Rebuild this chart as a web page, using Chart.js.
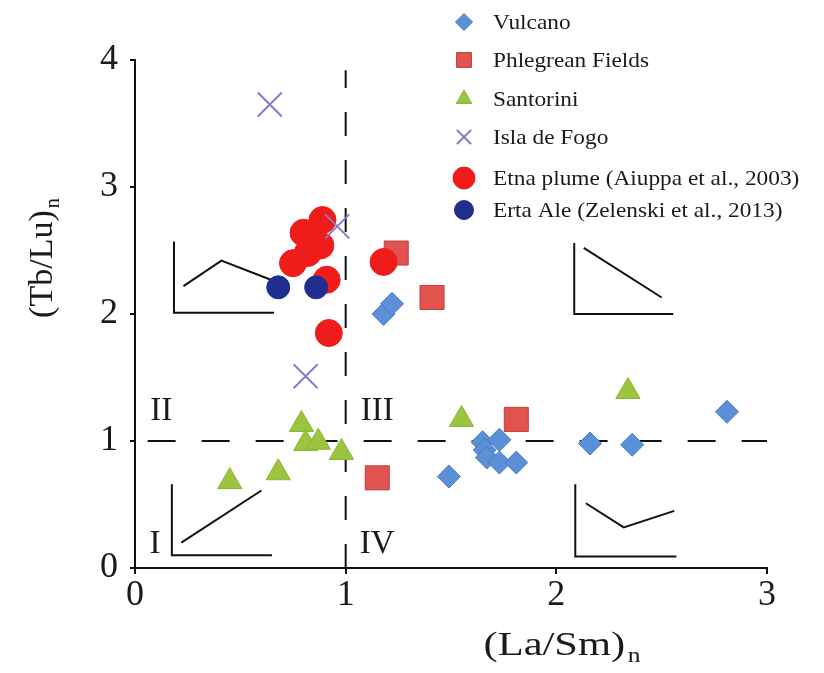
<!DOCTYPE html>
<html>
<head>
<meta charset="utf-8">
<script src="https://cdn.jsdelivr.net/npm/chart.js@4/dist/chart.umd.min.js"></script>
<style>
  html, body { margin: 0; padding: 0; background: #fff; }
  canvas { display: block; }
</style>
</head>
<body>
<canvas id="chart" width="824" height="673"></canvas>
<script>
// (La/Sm)n , (Tb/Lu)n pairs
const vulcano = [
  [1.18, 2.00], [1.22, 2.08], [1.49, 0.72], [1.65, 0.99], [1.73, 1.01],
  [1.66, 0.93], [1.67, 0.87], [1.73, 0.83], [1.81, 0.83], [2.16, 0.98],
  [2.36, 0.97], [2.81, 1.23],
];
const phlegrean = [[1.24, 2.48], [1.41, 2.13], [1.15, 0.71], [1.81, 1.17]];
const santorini = [
  [0.45, 0.68], [0.68, 0.75], [0.79, 1.13], [0.81, 0.98], [0.87, 0.99],
  [0.98, 0.91], [1.55, 1.17], [2.34, 1.39],
];
const fogo = [[0.64, 3.65], [0.96, 2.69], [0.81, 1.51]];
const etna = [
  [0.89, 2.74], [0.80, 2.64], [0.88, 2.54], [0.82, 2.48], [0.75, 2.40],
  [0.91, 2.27], [0.92, 1.85], [1.18, 2.41],
];
const ertaAle = [[0.68, 2.21], [0.86, 2.21]];

// quadrant dividers
const dividerX = [[1, 0], [1, 3.92]];
const dividerY = [[0.06, 1], [3, 1]];

// small REE-pattern sketches in each quadrant
const insetFrames = [
  [[0.185, 2.57], [0.185, 2.01], [0.66, 2.01]],
  [[2.085, 2.56], [2.085, 2.00], [2.555, 2.00]],
  [[0.175, 0.66], [0.175, 0.10], [0.65, 0.10]],
  [[2.09, 0.66], [2.09, 0.09], [2.57, 0.09]],
];
const insetCurves = [
  [[0.23, 2.22], [0.41, 2.42], [0.66, 2.26]],
  [[2.13, 2.52], [2.50, 2.13]],
  [[0.22, 0.20], [0.60, 0.61]],
  [[2.14, 0.51], [2.32, 0.32], [2.56, 0.45]],
];

const quadrantNames = ['II', 'III', 'I', 'IV'];
const quadrantSpots = [[0.125, 1.23], [1.15, 1.23], [0.095, 0.19], [1.15, 0.19]];

const toPts = (arr) => arr.map(([x, y]) => ({ x, y }));
const serif = '"Liberation Serif", "DejaVu Serif", serif';

const markerSeries = [
  { label: 'Vulcano', data: vulcano, pointStyle: 'rectRot', radius: 11.5, bg: '#5b8fd6', border: '#4a7dc4', bw: 1, order: 6, legendR: 8.5 },
  { label: 'Phlegrean Fields', data: phlegrean, pointStyle: 'rect', radius: 17, bg: '#e2534f', border: '#b8423f', bw: 1, order: 5, legendR: 10.5 },
  { label: 'Santorini', data: santorini, pointStyle: 'triangle', radius: 14, bg: '#9bc43f', border: '#8ab534', bw: 1, order: 4, legendR: 9 },
  { label: 'Isla de Fogo', data: fogo, pointStyle: 'crossRot', radius: 17, bg: '#8a7bc6', border: '#8a7bc6', bw: 2, order: 0, legendR: 10 },
  { label: 'Etna plume (Aiuppa et al., 2003)', data: etna, pointStyle: 'circle', radius: 13.5, bg: '#f01b1b', border: '#f01b1b', bw: 1, order: 2, legendR: 11 },
  { label: 'Erta Ale (Zelenski et al., 2013)', data: ertaAle, pointStyle: 'circle', radius: 11.5, bg: '#1f2e8f', border: '#1f2e8f', bw: 1, order: 1, legendR: 9.5 },
];
const legendRowsY = [22, 60, 99, 137, 178, 210];

const datasets = [];
markerSeries.forEach((s) => {
  datasets.push({
    label: s.label,
    data: toPts(s.data),
    pointStyle: s.pointStyle,
    pointRadius: s.radius,
    pointHoverRadius: s.radius,
    backgroundColor: s.bg,
    borderColor: s.border,
    borderWidth: s.bw,
    order: s.order,
  });
});

const lineStyle = (data, dash) => ({
  data: toPts(data),
  showLine: true,
  fill: false,
  tension: 0,
  borderColor: '#111',
  borderWidth: 2,
  borderDash: dash,
  pointRadius: 0,
  pointHoverRadius: 0,
  order: 10,
});
datasets.push(lineStyle(dividerX, [24, 24]));
datasets.push(lineStyle(dividerY, [28, 26]));
insetFrames.forEach((f) => datasets.push(lineStyle(f, [])));
insetCurves.forEach((c) => datasets.push(lineStyle(c, [])));

// text with a subscript, optionally stretched horizontally
function subText(ctx, main, sub, cx, baseline, size, stretch) {
  ctx.font = `${size}px ${serif}`;
  const w = ctx.measureText(main).width;
  ctx.font = `${size * 0.6}px ${serif}`;
  const sw = ctx.measureText(sub).width;
  const total = w + sw + 2;
  ctx.save();
  ctx.translate(cx, baseline);
  ctx.scale(stretch, 1);
  ctx.textAlign = 'left';
  ctx.textBaseline = 'alphabetic';
  ctx.font = `${size}px ${serif}`;
  ctx.fillText(main, -total / 2, 0);
  ctx.font = `${size * 0.6}px ${serif}`;
  ctx.fillText(sub, -total / 2 + w + 2, size * 0.22);
  ctx.restore();
}

const decorations = {
  id: 'decorations',
  afterDraw(chart) {
    const { ctx, scales: { x, y } } = chart;
    ctx.save();
    ctx.fillStyle = '#1a1a1a';

    // axis titles
    subText(ctx, '(La/Sm)', 'n', 562, 655, 34, 1.25);
    ctx.save();
    ctx.translate(40, 258);
    ctx.rotate(-Math.PI / 2);
    subText(ctx, '(Tb/Lu)', 'n', 0, 12, 34, 1.0);
    ctx.restore();

    // quadrant numerals
    ctx.font = `33px ${serif}`;
    ctx.textAlign = 'center';
    ctx.textBaseline = 'middle';
    quadrantNames.forEach((name, i) => {
      const [qx, qy] = quadrantSpots[i];
      ctx.fillText(name, x.getPixelForValue(qx), y.getPixelForValue(qy));
    });

    // legend
    ctx.textAlign = 'left';
    markerSeries.forEach((s, i) => {
      const ly = legendRowsY[i];
      ctx.fillStyle = s.bg;
      ctx.strokeStyle = s.border;
      ctx.lineWidth = s.pointStyle === 'crossRot' ? 2 : 1;
      Chart.helpers.drawPoint(ctx, {
        pointStyle: s.pointStyle,
        radius: s.legendR,
        rotation: 0,
        borderWidth: ctx.lineWidth,
      }, 464, ly);
      ctx.save();
      ctx.translate(493, ly + 1);
      ctx.scale(1.06, 1);
      ctx.font = `22px ${serif}`;
      ctx.fillStyle = '#1a1a1a';
      ctx.fillText(s.label, 0, 0);
      ctx.restore();
    });
    ctx.restore();
  },
};

new Chart(document.getElementById('chart'), {
  type: 'scatter',
  data: { datasets },
  plugins: [decorations],
  options: {
    responsive: false,
    animation: false,
    layout: { padding: { left: 0, top: 60, right: 57, bottom: 0 } },
    plugins: {
      legend: { display: false },
      tooltip: { enabled: false },
    },
    scales: {
      x: {
        type: 'linear',
        min: 0,
        max: 3,
        afterFit: (scale) => { scale.height = 105; },
        ticks: {
          stepSize: 1,
          color: '#1a1a1a',
          font: { family: serif, size: 36 },
          padding: 0,
        },
        grid: {
          display: true,
          drawOnChartArea: false,
          drawTicks: true,
          tickLength: 6,
          color: '#111',
          lineWidth: 2,
        },
        border: { display: true, color: '#111', width: 2 },
      },
      y: {
        type: 'linear',
        min: 0,
        max: 4,
        afterFit: (scale) => { scale.width = 135; },
        ticks: {
          stepSize: 1,
          color: '#1a1a1a',
          font: { family: serif, size: 36 },
          padding: 12,
        },
        grid: {
          display: true,
          drawOnChartArea: false,
          drawTicks: true,
          tickLength: 5,
          color: '#111',
          lineWidth: 2,
        },
        border: { display: true, color: '#111', width: 2 },
      },
    },
  },
});
</script>
</body>
</html>
